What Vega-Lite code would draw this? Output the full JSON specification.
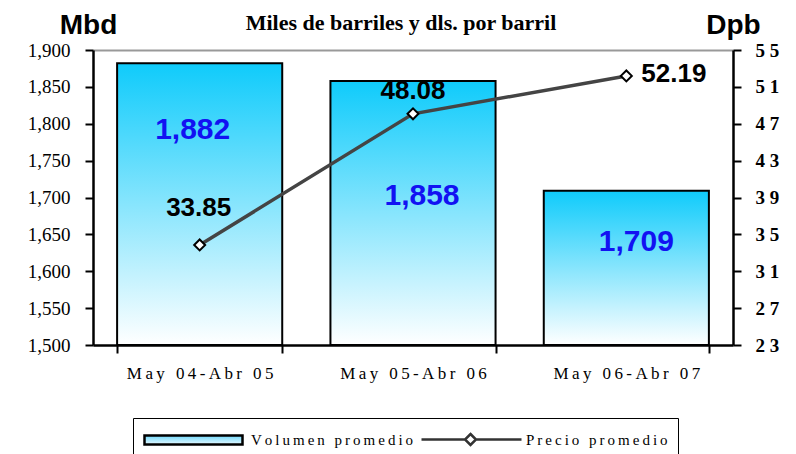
{
  "$schema": "https://vega.github.io/schema/vega-lite/v6.json",
  "width": 640,
  "height": 295,
  "autosize": {"type": "none"},
  "padding": {"left": 93, "top": 50, "right": 63, "bottom": 109},
  "background": "white",
  "title": {
    "text": "Miles de barriles y dls. por barril",
    "font": "Liberation Serif",
    "fontSize": 22,
    "fontWeight": "bold",
    "color": "black",
    "anchor": "middle",
    "frame": "group",
    "dx": -12,
    "offset": -24
  },
  "data": {
    "values": [
      {"periodo": "May 04-Abr 05", "volumen": 1882, "precio": 33.85},
      {"periodo": "May 05-Abr 06", "volumen": 1858, "precio": 48.08},
      {"periodo": "May 06-Abr 07", "volumen": 1709, "precio": 52.19}
    ]
  },
  "encoding": {
    "x": {
      "field": "periodo",
      "type": "nominal",
      "sort": null,
      "scale": {"paddingInner": 0.226, "paddingOuter": 0.113},
      "axis": {
        "title": null,
        "labelAngle": 0,
        "labelFont": "Liberation Serif",
        "labelFontSize": 17,
        "labelColor": "black",
        "labelPadding": 12,
        "tickBand": "extent",
        "tickSize": 8,
        "tickWidth": 2,
        "tickColor": "black",
        "domainColor": "black",
        "domainWidth": 2.5,
        "labelExpr": "join(split(datum.label, ''), '\u2009')"
      }
    }
  },
  "layer": [
    {
      "encoding": {
        "y": {
          "field": "volumen",
          "type": "quantitative",
          "scale": {"domain": [1500, 1900], "zero": false, "nice": false},
          "axis": {
            "orient": "left",
            "values": [1500, 1550, 1600, 1650, 1700, 1750, 1800, 1850, 1900],
            "labelExpr": "format(datum.value, ',')",
            "labelOverlap": false,
            "labelFont": "Liberation Serif",
            "labelFontSize": 19,
            "labelColor": "black",
            "labelPadding": 15,
            "domainColor": "black",
            "domainWidth": 2.5,
            "tickColor": "black",
            "tickWidth": 2,
            "tickSize": 8,
            "title": "Mbd",
            "titleAngle": 0,
            "titleX": -5,
            "titleY": -17,
            "titleAlign": "center",
            "titleBaseline": "alphabetic",
            "titleFont": "Liberation Sans",
            "titleFontSize": 28,
            "titleFontWeight": "bold",
            "titleColor": "black",
            "grid": true,
            "gridColor": "#999999",
            "gridWidth": 2,
            "gridOpacity": {"condition": {"test": "datum.value == 1900", "value": 1}, "value": 0}
          }
        }
      },
      "layer": [
        {
          "mark": {
            "type": "bar",
            "fill": {
              "gradient": "linear",
              "x1": 0, "y1": 0, "x2": 0, "y2": 1,
              "stops": [
                {"offset": 0, "color": "#0fcbfb"},
                {"offset": 1, "color": "#ffffff"}
              ]
            },
            "stroke": "black",
            "strokeWidth": 2,
            "opacity": 1
          },
          "encoding": {
            "y2": {"datum": 1500}
          }
        },
        {
          "transform": [{"filter": "datum.periodo == 'May 04-Abr 05'"}],
          "mark": {"type": "text", "font": "Liberation Sans", "fontWeight": "bold", "fontSize": 30, "color": "#1212f2", "baseline": "middle", "dy": 67, "dx": -7},
          "encoding": {"text": {"field": "volumen", "type": "quantitative", "format": ","}}
        },
        {
          "transform": [{"filter": "datum.periodo == 'May 05-Abr 06'"}],
          "mark": {"type": "text", "font": "Liberation Sans", "fontWeight": "bold", "fontSize": 30, "color": "#1212f2", "baseline": "middle", "dy": 115, "dx": 9},
          "encoding": {"text": {"field": "volumen", "type": "quantitative", "format": ","}}
        },
        {
          "transform": [{"filter": "datum.periodo == 'May 06-Abr 07'"}],
          "mark": {"type": "text", "font": "Liberation Sans", "fontWeight": "bold", "fontSize": 30, "color": "#1212f2", "baseline": "middle", "dy": 51, "dx": 10},
          "encoding": {"text": {"field": "volumen", "type": "quantitative", "format": ","}}
        }
      ]
    },
    {
      "encoding": {
        "y": {
          "field": "precio",
          "type": "quantitative",
          "scale": {"domain": [23, 55], "zero": false, "nice": false},
          "axis": {
            "orient": "right",
            "values": [23, 27, 31, 35, 39, 43, 47, 51, 55],
            "labelExpr": "substring(datum.label, 0, 1) + ' ' + substring(datum.label, 1)",
            "labelOverlap": false,
            "labelFont": "Liberation Serif",
            "labelFontSize": 19,
            "labelFontWeight": "bold",
            "labelColor": "black",
            "labelPadding": 14,
            "domainColor": "black",
            "domainWidth": 2.5,
            "tickColor": "black",
            "tickWidth": 2,
            "tickSize": 8,
            "grid": false,
            "title": "Dpb",
            "titleAngle": 0,
            "titleX": 0,
            "titleY": -17,
            "titleAlign": "center",
            "titleBaseline": "alphabetic",
            "titleFont": "Liberation Sans",
            "titleFontSize": 28,
            "titleFontWeight": "bold",
            "titleColor": "black"
          }
        }
      },
      "layer": [
        {
          "mark": {"type": "line", "strokeWidth": 3.5, "stroke": "#444444"},
          "encoding": {}
        },
        {
          "mark": {"type": "point", "shape": "diamond", "filled": true, "fill": "white", "stroke": "black", "strokeWidth": 2, "size": 120, "opacity": 1},
          "encoding": {}
        },
        {
          "transform": [{"filter": "false"}],
          "mark": {
            "type": "point",
            "filled": true,
            "opacity": 1,
            "strokeWidth": 2.5,
            "size": 400,
            "shape": {"expr": "datum.value === 'Volumen promedio' ? 'M-1,-0.45H8.8V0.45H-1Z' : 'M-0.8,0H3.55M4.65,0H9.2M4.1,-0.55L4.65,0L4.1,0.55L3.55,0Z'"},
            "fill": {"expr": "datum.value === 'Volumen promedio' ? {gradient: 'linear', x1: 0, y1: 0, x2: 0, y2: 1, stops: [{offset: 0, color: '#6fd8fb'}, {offset: 1, color: '#e6f8fe'}]} : 'white'"}
          },
          "encoding": {
            "stroke": {
              "datum": "Volumen promedio",
              "type": "nominal",
              "scale": {"domain": ["Volumen promedio", "Precio promedio"], "range": ["#000000", "#333333"]},
              "legend": {
                "orient": "none",
                "legendX": 40,
                "legendY": 368,
                "direction": "horizontal",
                "title": null,
                "strokeColor": "black",
                "fillColor": "white",
                "padding": 10,
                "labelFont": "Liberation Serif",
                "labelFontSize": 15,
                "labelColor": "black",
                "labelOffset": 85,
                "labelLimit": 400,
                "columnPadding": 2,
                "symbolSize": 400,
                "symbolStrokeWidth": 2.5,
                "symbolOpacity": 1,
                "symbolType": {"expr": "datum.value === 'Volumen promedio' ? 'M-1,-0.45H8.8V0.45H-1Z' : 'M-0.8,0H3.55M4.65,0H9.2M4.1,-0.55L4.65,0L4.1,0.55L3.55,0Z'"},
                "labelExpr": "join(split(datum.label, ''), '\u2009')"
              }
            }
          }
        },
        {
          "transform": [{"filter": "datum.periodo == 'May 04-Abr 05'"}],
          "mark": {"type": "text", "font": "Liberation Sans", "fontWeight": "bold", "fontSize": 26, "color": "black", "baseline": "middle", "dy": -37, "dx": -1},
          "encoding": {"text": {"field": "precio", "type": "quantitative", "format": ".2f"}}
        },
        {
          "transform": [{"filter": "datum.periodo == 'May 05-Abr 06'"}],
          "mark": {"type": "text", "font": "Liberation Sans", "fontWeight": "bold", "fontSize": 26, "color": "black", "baseline": "middle", "dy": -23},
          "encoding": {"text": {"field": "precio", "type": "quantitative", "format": ".2f"}}
        },
        {
          "transform": [{"filter": "datum.periodo == 'May 06-Abr 07'"}],
          "mark": {"type": "text", "font": "Liberation Sans", "fontWeight": "bold", "fontSize": 26, "color": "black", "baseline": "middle", "align": "left", "dy": -2, "dx": 15},
          "encoding": {"text": {"field": "precio", "type": "quantitative", "format": ".2f"}}
        }
      ]
    }
  ],
  "resolve": {"scale": {"y": "independent"}},
  "config": {"view": {"stroke": null}}
}
